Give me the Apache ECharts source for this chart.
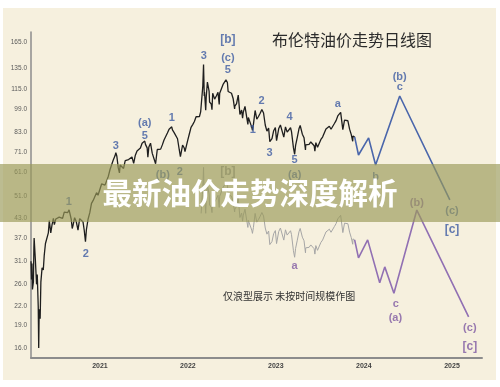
<!DOCTYPE html>
<html><head><meta charset="utf-8">
<script src="https://cdn.jsdelivr.net/npm/echarts@6/dist/echarts.min.js"></script>
<style>html,body{margin:0;padding:0;background:#fff}#c{width:500px;height:387px}</style>
</head><body><div id="c"></div>
<script>
// ---------- DATA ----------
const yTicks = [16.0, 19.0, 22.0, 26.0, 31.0, 37.0, 43.0, 51.0, 61.0, 71.0, 83.0, 99.0, 115.0, 135.0, 165.0];
const yearTicks = ['2021-01-01', '2022-01-01', '2023-01-01', '2024-01-01', '2025-01-01'];

const brent2020 = [
 ['2020-03-21',31.0],['2020-03-23',27.0],['2020-03-25',30.5],['2020-03-27',25.0],['2020-03-31',26.5],['2020-04-02',34.5],['2020-04-03',37.0],
 ['2020-04-08',31.5],['2020-04-13',26.0],['2020-04-16',28.0],['2020-04-20',22.0],['2020-04-22',16.0],['2020-04-24',21.5],
 ['2020-04-28',20.0],['2020-05-01',26.5],['2020-05-06',29.5],['2020-05-11',29.0],['2020-05-15',32.5],['2020-05-20',35.5],
 ['2020-05-26',36.0],['2020-06-01',38.5],['2020-06-05',42.3],['2020-06-11',38.5],['2020-06-16',40.8],['2020-06-22',43.0],
 ['2020-06-26',41.0],['2020-07-02',42.8],['2020-07-09',42.3],['2020-07-16',43.4],['2020-07-23',44.0],['2020-07-30',43.0],
 ['2020-08-06',45.1],['2020-08-13',44.9],['2020-08-20',44.9],['2020-08-26',45.9],['2020-08-31',46.3],['2020-09-04',42.7],
 ['2020-09-08',39.8],['2020-09-11',40.6],['2020-09-18',43.2],['2020-09-25',41.9],['2020-10-02',39.3],['2020-10-09',42.9],
 ['2020-10-16',42.9],['2020-10-23',41.8],['2020-10-28',39.2],['2020-11-02',36.0],['2020-11-06',39.5],['2020-11-13',42.8],
 ['2020-11-20',44.9],['2020-11-27',48.2],['2020-12-04',49.3],['2020-12-11',50.0],['2020-12-18',52.3],['2020-12-24',51.3],
 ['2020-12-31',51.8]
];
const brent2021 = [
 ['2021-01-08',55.9],['2021-01-15',55.1],['2021-01-22',55.4],['2021-01-29',55.9],['2021-02-05',59.3],['2021-02-12',62.4],
 ['2021-02-19',62.9],['2021-02-25',67.0],['2021-03-05',69.4],['2021-03-08',71.0],['2021-03-12',69.2],['2021-03-18',63.3],
 ['2021-03-23',60.8],['2021-03-26',64.6],['2021-04-01',64.9],['2021-04-09',62.9],['2021-04-16',66.8],['2021-04-23',66.1],
 ['2021-04-30',67.3],['2021-05-07',68.3],['2021-05-14',68.7],['2021-05-21',65.4],['2021-05-28',69.6],['2021-06-04',71.9],
 ['2021-06-11',72.7],['2021-06-18',73.5],['2021-06-25',76.2],['2021-07-02',76.2],['2021-07-06',77.5],['2021-07-09',75.6],
 ['2021-07-16',73.6],['2021-07-19',68.6],['2021-07-23',74.1],['2021-07-30',76.3],['2021-08-06',70.7],['2021-08-13',70.6],
 ['2021-08-20',65.2],['2021-08-27',72.7],['2021-09-03',72.6],['2021-09-10',72.9],['2021-09-17',75.3],['2021-09-24',78.1],
 ['2021-10-01',79.3],['2021-10-08',82.4],['2021-10-15',84.9],['2021-10-22',85.5],['2021-10-26',86.4],['2021-10-29',84.4],
 ['2021-11-05',82.7],['2021-11-12',82.2],['2021-11-19',78.9],['2021-11-26',72.7],['2021-12-01',68.9],['2021-12-03',69.9],
 ['2021-12-10',75.2],['2021-12-17',73.5],['2021-12-20',71.5],['2021-12-31',77.8]
];
const brent2022 = [
 ['2022-01-07',81.8],['2022-01-14',86.1],['2022-01-21',87.9],['2022-01-28',90.0],['2022-02-04',93.3],['2022-02-11',94.4],
 ['2022-02-18',93.5],['2022-02-23',96.8],['2022-02-25',97.9],['2022-03-02',112.9],['2022-03-04',118.1],['2022-03-07',139.0],
 ['2022-03-08',128.0],['2022-03-10',109.3],['2022-03-11',112.7],['2022-03-16',98.0],['2022-03-18',107.9],['2022-03-23',121.6],
 ['2022-03-25',120.7],['2022-03-30',113.5],['2022-04-01',104.4],['2022-04-08',102.8],['2022-04-11',98.5],['2022-04-14',111.7],
 ['2022-04-22',106.7],['2022-04-29',109.3],['2022-05-06',112.4],['2022-05-11',102.5],['2022-05-13',111.6],['2022-05-20',112.6],
 ['2022-05-27',119.4],['2022-06-03',119.7],['2022-06-08',123.6],['2022-06-14',121.2],['2022-06-17',113.1],['2022-06-24',113.1],
 ['2022-07-01',111.6],['2022-07-08',107.0],['2022-07-14',99.1],['2022-07-15',101.2],['2022-07-22',103.2],['2022-07-29',110.0],
 ['2022-08-05',94.9],['2022-08-12',98.2],['2022-08-16',92.3],['2022-08-19',96.7],['2022-08-26',101.0],['2022-09-02',93.0],
 ['2022-09-07',88.0],['2022-09-09',92.8],['2022-09-16',91.4],['2022-09-23',86.2],['2022-09-26',84.1],['2022-09-30',88.0],
 ['2022-10-07',97.9],['2022-10-14',91.6],['2022-10-21',93.5],['2022-10-28',95.8],['2022-11-04',98.6],['2022-11-11',96.0],
 ['2022-11-18',87.6],['2022-11-25',83.6],['2022-12-02',85.6],['2022-12-07',77.2],['2022-12-09',76.1],['2022-12-16',79.0],
 ['2022-12-23',83.9],['2022-12-30',85.9]
];
const brent2023 = [
 ['2023-01-04',77.8],['2023-01-06',78.6],['2023-01-13',85.3],['2023-01-20',87.6],['2023-01-27',86.7],['2023-02-03',79.9],
 ['2023-02-10',86.4],['2023-02-17',83.0],['2023-02-24',83.2],['2023-03-03',85.8],['2023-03-07',83.3],['2023-03-10',82.8],
 ['2023-03-15',73.7],['2023-03-17',73.0],['2023-03-20',70.1],['2023-03-24',75.0],['2023-03-31',79.8],['2023-04-07',85.1],
 ['2023-04-12',87.3],['2023-04-14',86.3],['2023-04-21',81.7],['2023-04-28',79.5],['2023-05-04',72.5],['2023-05-05',75.3],
 ['2023-05-12',74.2],['2023-05-19',75.6],['2023-05-26',77.0],['2023-06-02',76.1],['2023-06-09',74.8],['2023-06-12',71.8],
 ['2023-06-16',76.6],['2023-06-23',73.9],['2023-06-30',74.9],['2023-07-07',78.5],['2023-07-14',79.9],['2023-07-21',81.1],
 ['2023-07-28',85.0],['2023-08-04',86.2],['2023-08-11',86.8],['2023-08-18',84.8],['2023-08-25',84.5],['2023-09-01',88.6],
 ['2023-09-08',90.6],['2023-09-15',93.9],['2023-09-22',93.3],['2023-09-27',96.5],['2023-09-29',95.3],['2023-10-06',84.6],
 ['2023-10-13',90.9],['2023-10-20',92.2],['2023-10-27',90.5],['2023-11-03',84.9],['2023-11-10',81.4],['2023-11-16',77.4],
 ['2023-11-17',80.6],['2023-11-24',80.0]
];

// faded copy of the price path (wave shape only), shifted down
const copyStart = '2022-02-25';
const copyFactor = 0.456;

// blue projection (after the last actual price)
const blueProjection = [
 ['2023-12-10',69.7],['2024-01-21',79.4],['2024-02-19',64.6],['2024-05-29',109.3],['2024-12-23',49.5]
];
// purple projection (after the end of the faded copy)
const purpleProjection = [
 ['2023-12-10',31.8],['2024-01-17',36.5],['2024-03-07',26.3],['2024-03-28',29.7],['2024-05-05',24.3],
 ['2024-08-08',45.8],['2025-03-11',20.3]
];

const blueLabels = [
 ['2020-08-25',48.7,'1'],['2020-11-03',32.8,'2'],['2021-03-08',74.7,'3'],['2021-07-06',89.0,'(a)'],
 ['2021-07-06',80.6,'5'],['2021-09-19',59.8,'(b)'],['2021-10-26',92.4,'1'],['2021-11-28',61.2,'2'],
 ['2022-03-08',148.3,'3'],['2022-06-16',167.5,'[b]'],['2022-06-16',146.0,'(c)'],['2022-06-16',133.3,'5'],
 ['2022-09-27',84.4,'1'],['2022-11-03',105.2,'2'],['2022-12-06',70.8,'3'],['2023-02-27',93.1,'4'],
 ['2023-03-20',67.1,'5'],['2023-03-20',59.8,'(a)'],['2023-09-15',102.8,'a'],['2024-05-29',126.3,'(b)'],
 ['2024-05-29',117.1,'c'],['2024-02-19',58.9,'b'],['2025-01-01',45.5,'(c)'],['2025-01-01',39.3,'[c]']
];
const purpleLabels = [
 ['2023-03-20',29.9,'a'],['2024-05-13',22.4,'c'],['2024-05-11',20.1,'(a)'],['2024-08-08',48.3,'(b)'],
 ['2025-03-16',18.6,'(c)'],['2025-03-16',16.1,'[c]']
];
const grayLabels = [['2022-06-16',61.2,'[b]']];

// ---------- BUILD ----------
const L = Math.log10;
const T = s => new Date(s + 'T00:00:00').getTime();
const brent = [].concat(brent2020, brent2021, brent2022, brent2023);
const blackData = brent.map(p => [T(p[0]), L(p[1])]);
const copyPts = brent.filter(p => p[0] >= copyStart).map(p => [p[0], p[1] * copyFactor]);
const copyData = copyPts.map(p => [T(p[0]), L(p[1])]);
const last = brent[brent.length - 1];
const blueData = [last].concat(blueProjection).map(p => [T(p[0]), L(p[1])]);
const lastCopy = copyPts[copyPts.length - 1];
const purpleData = [lastCopy].concat(purpleProjection).map(p => [T(p[0]), L(p[1])]);

function labelSeries(list, color) {
  return {
    type: 'scatter', symbolSize: 1, z: 6, silent: true, clip: false,
    itemStyle: {color: 'rgba(0,0,0,0)'},
    data: list.map(l => ({
      value: [T(l[0]), L(l[1])],
      label: {
        show: true, position: 'inside', formatter: l[2], color: color,
        fontFamily: 'Liberation Sans', fontWeight: 'bold',
        fontSize: l[2].charAt(0) === '[' ? 12 : 11
      }
    }))
  };
}

const chart = echarts.init(document.getElementById('c'), null, {renderer: 'canvas'});
chart.setOption({
  animation: false,
  backgroundColor: '#ffffff',
  grid: {left: 31, right: 18, top: 32, bottom: 29},
  xAxis: {
    type: 'value',
    min: new Date(2020, 2, 21).getTime(),
    max: new Date(2025, 4, 5, 12).getTime(),
    axisLine: {show: true, lineStyle: {color: '#8c8c8c', width: 2}},
    axisTick: {show: false},
    splitLine: {show: false},
    axisLabel: {
      customValues: yearTicks.map(T),
      formatter: v => String(new Date(v).getFullYear()),
      fontSize: 7, fontWeight: 'bold', color: '#444', margin: 5, fontFamily: 'Liberation Sans'
    }
  },
  yAxis: {
    type: 'value',
    min: 1.17100, max: 2.25060,
    axisLine: {show: true, lineStyle: {color: '#8c8c8c', width: 1.5}},
    axisTick: {show: false},
    splitLine: {show: false},
    axisLabel: {
      customValues: yTicks.map(L),
      formatter: v => Math.pow(10, v).toFixed(1),
      fontSize: 6.5, color: '#5a5a5a', margin: 4, fontFamily: 'Liberation Sans'
    }
  },
  graphic: [
    {type: 'rect', z: -10, silent: true, shape: {x: 3, y: 8, width: 493, height: 372}, style: {fill: '#f6f0de'}},
    {type: 'text', z: 5, x: 272, y: 40, style: {text: '布伦特油价走势日线图', fontSize: 16, fontFamily: 'Noto Sans CJK SC', fill: '#2b2b2b', verticalAlign: 'middle'}},
    {type: 'text', z: 5, x: 223, y: 296, style: {text: '仅浪型展示 未按时间规模作图', fontSize: 10, fontFamily: 'Noto Sans CJK SC', fill: '#333', verticalAlign: 'middle'}},
    {type: 'rect', z: 100, silent: true, shape: {x: 0, y: 164, width: 500, height: 58}, style: {fill: 'rgba(153,154,88,0.66)'}},
    {type: 'text', z: 101, x: 250, y: 193, style: {text: '最新油价走势深度解析', fontSize: 29.5, fontWeight: 'bold', fontFamily: 'Noto Sans CJK SC', fill: '#ffffff', align: 'center', verticalAlign: 'middle', shadowColor: 'rgba(0,0,0,0.15)', shadowBlur: 2}}
  ],
  series: [
    {type: 'line', data: copyData, showSymbol: false, z: 2, lineStyle: {color: '#a6a6a6', width: 1}},
    {type: 'line', data: blackData, showSymbol: false, z: 3, lineStyle: {color: '#1e1e1e', width: 1.3}},
    {type: 'line', data: blueData, showSymbol: false, z: 3, lineStyle: {color: '#4a66ab', width: 1.6}},
    {type: 'line', data: purpleData, showSymbol: false, z: 3, lineStyle: {color: '#9170b3', width: 1.6}},
    labelSeries(blueLabels, '#3f5ca3'),
    labelSeries(purpleLabels, '#7f5aa3'),
    labelSeries(grayLabels, '#8a8a8a')
  ]
});
</script></body></html>
